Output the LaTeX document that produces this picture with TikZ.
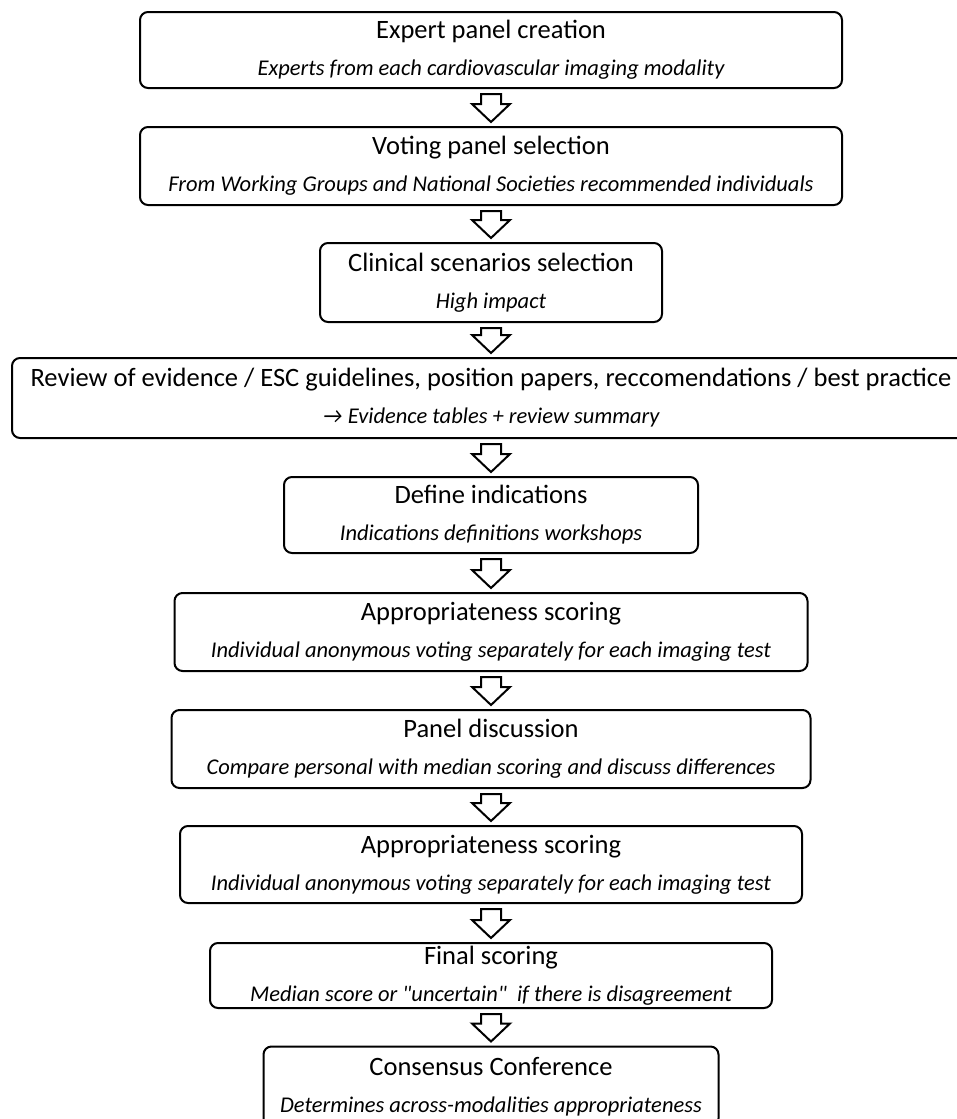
\documentclass[tikz,border=0pt]{standalone}
\usepackage{fontspec}
\setmainfont{Carlito}
\usetikzlibrary{calc}

\newcommand{\subline}[1]{{\itshape\fontsize{22.5}{37}\selectfont #1}}

\begin{document}
\begin{tikzpicture}[x=1pt, y=-1pt,
    stage/.style={draw, line width=2pt, rounded corners=8pt, align=center, inner sep=0pt,
      font=\fontsize{26.5}{37}\selectfont},
    flowarrow/.style={draw, line width=2pt, line join=miter,
      to path={let \p1=(\tikztostart), \p2=(\tikztotarget) in
        (\x1-10pt,\y1-5pt) -- (\x1+10pt,\y1-5pt) -- (\x1+10pt,\y2+22pt) -- (\x1+19pt,\y2+22pt)
        -- (\x1,\y2+4pt) -- (\x1-19pt,\y2+22pt) -- (\x1-10pt,\y2+22pt) -- cycle}}]
    \useasboundingbox (0,0) rectangle (956,1119);
    \node[stage, minimum width=702pt, minimum height=76pt] (panel) at (491,50)
      {Expert panel creation\\\subline{Experts from each cardiovascular imaging modality}};
    \node[stage, minimum width=702pt, minimum height=78pt] (voting) at (491,166)
      {Voting panel selection\\\subline{From Working Groups and National Societies recommended individuals}};
    \node[stage, minimum width=342pt, minimum height=79pt] (scenarios) at (491,282.5)
      {Clinical scenarios selection\\\subline{High impact}};
    \node[stage, minimum width=958pt, minimum height=80pt] (review) at (491,398)
      {Review of evidence / ESC guidelines, position papers, reccomendations / best practice\\\subline{→ Evidence tables + review summary}};
    \node[stage, minimum width=414pt, minimum height=76pt] (define) at (491,515)
      {Define indications\\\subline{Indications definitions workshops}};
    \node[stage, minimum width=633pt, minimum height=78pt] (score1) at (491,632)
      {Appropriateness scoring\\\subline{Individual anonymous voting separately for each imaging test}};
    \node[stage, minimum width=639pt, minimum height=78pt] (discuss) at (491,749)
      {Panel discussion\\\subline{Compare personal with median scoring and discuss differences}};
    \node[stage, minimum width=622pt, minimum height=77pt] (score2) at (491,864.5)
      {Appropriateness scoring\\\subline{Individual anonymous voting separately for each imaging test}};
    \node[stage, minimum width=562pt, minimum height=65pt] (final) at (491,975.5)
      {Final scoring\\\subline{Median score or \textquotedbl uncertain\textquotedbl\ \ if there is disagreement}};
    \node[stage, minimum width=455pt, minimum height=80pt] (consensus) at (491,1086.5)
      {Consensus Conference\\\subline{Determines across-modalities appropriateness}};
    \draw[flowarrow] (panel.south) to (voting.north);
    \draw[flowarrow] (voting.south) to (scenarios.north);
    \draw[flowarrow] (scenarios.south) to (review.north);
    \draw[flowarrow] (review.south) to (define.north);
    \draw[flowarrow] (define.south) to (score1.north);
    \draw[flowarrow] (score1.south) to (discuss.north);
    \draw[flowarrow] (discuss.south) to (score2.north);
    \draw[flowarrow] (score2.south) to (final.north);
    \draw[flowarrow] (final.south) to (consensus.north);
  \end{tikzpicture}
\end{document}
